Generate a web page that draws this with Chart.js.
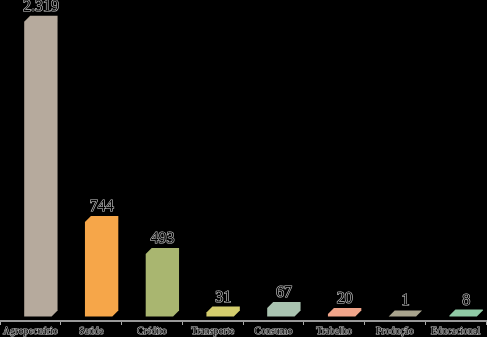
<!DOCTYPE html>
<html>
<head>
<meta charset="utf-8">
<script src="https://cdn.jsdelivr.net/npm/chart.js@4/dist/chart.umd.min.js"></script>
<style>
  html, body { margin: 0; padding: 0; background: #000; }
  #wrap { width: 487px; height: 337px; }
</style>
</head>
<body>
<div id="wrap"><canvas id="chart"></canvas></div>
<script>
const categories = ['Agropecuário', 'Saúde', 'Crédito', 'Transporte', 'Consumo', 'Trabalho', 'Produção', 'Educacional'];
const values = [2319, 744, 493, 31, 67, 20, 1, 8];
const barColors = ['#b6aa9d', '#f6a649', '#a9b670', '#d4cd6d', '#a9c3b0', '#f1a58a', '#a9a48d', '#8fcaa5'];

const DEPTH = 6;
const SHIFT = 7.5;

// draws the 3d boxes and the value labels on top of the bar elements
const boxPlugin = {
  id: 'boxes',
  afterDatasetsDraw(chart) {
    const ctx = chart.ctx;
    const meta = chart.getDatasetMeta(0);
    ctx.save();
    meta.data.forEach((el, i) => {
      const L = el.x - el.width / 2 + SHIFT;
      const R = el.x + el.width / 2 + SHIFT;
      const T = el.y;
      const B = el.base;
      ctx.fillStyle = barColors[i];
      ctx.beginPath();
      ctx.moveTo(L, B);
      ctx.lineTo(L, T);
      ctx.lineTo(L + DEPTH, T - DEPTH);
      ctx.lineTo(R + DEPTH, T - DEPTH);
      ctx.lineTo(R + DEPTH, B - DEPTH);
      ctx.lineTo(R, B);
      ctx.closePath();
      ctx.fill();

      const label = values[i].toLocaleString('pt-BR');
      ctx.font = '16px "Liberation Serif", serif';
      ctx.textAlign = 'center';
      ctx.textBaseline = 'alphabetic';
      const cx = (L + R + DEPTH) / 2;
      const cy = T - DEPTH - 5;
      ctx.lineWidth = 1.2;
      ctx.strokeStyle = 'rgba(235,235,235,0.85)';
      ctx.strokeText(label, cx, cy);
      ctx.fillStyle = '#000';
      ctx.fillText(label, cx, cy);
    });
    ctx.restore();
  }
};

new Chart(document.getElementById('chart'), {
  type: 'bar',
  data: {
    labels: categories,
    datasets: [{
      data: values,
      backgroundColor: 'transparent',
      borderWidth: 0,
      barPercentage: 0.45,
      categoryPercentage: 1
    }]
  },
  options: {
    responsive: true,
    maintainAspectRatio: false,
    animation: false,
    layout: { padding: { top: 0, left: 0, right: 1, bottom: 0 } },
    plugins: {
      legend: { display: false },
      tooltip: { enabled: false }
    },
    scales: {
      x: {
        grid: { display: true, drawOnChartArea: false, drawTicks: true, tickLength: 4, color: '#aaa', offset: true },
        border: { display: true, color: '#999', width: 2 },
        ticks: {
          color: '#000',
          textStrokeColor: 'rgba(235,235,235,0.85)',
          textStrokeWidth: 1,
          padding: 0,
          maxRotation: 0,
          autoSkip: false,
          font: { family: '"Liberation Serif", serif', size: 10 }
        }
      },
      y: {
        display: false,
        min: -35,
        max: 2490
      }
    }
  },
  plugins: [boxPlugin]
});
</script>
</body>
</html>
